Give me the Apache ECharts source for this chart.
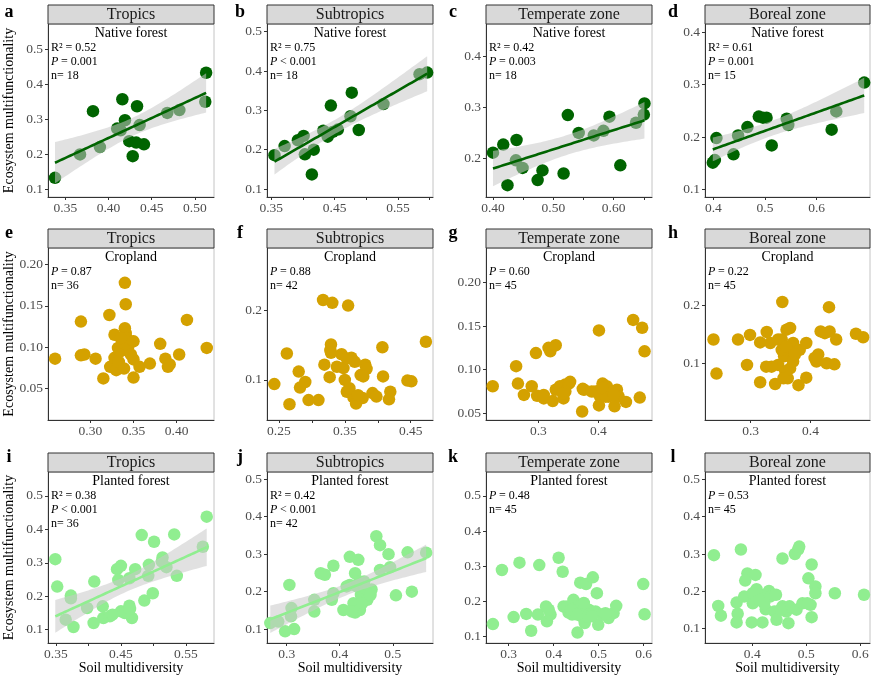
<!DOCTYPE html>
<html>
<head>
<meta charset="utf-8">
<script src="https://cdn.jsdelivr.net/npm/echarts@6.0.0/dist/echarts.min.js"></script>
<style>
html, body { margin: 0; padding: 0; background: #fff; }
#main { width: 872px; height: 678px; }
</style>
</head>
<body>
<div id="main"></div>
<script>
// 气候带与土地利用
var zones = ['Tropics', 'Subtropics', 'Temperate zone', 'Boreal zone'];
var landUses = ['Native forest', 'Cropland', 'Planted forest'];
var letters = ['a', 'b', 'c', 'd', 'e', 'f', 'g', 'h', 'i', 'j', 'k', 'l'];

// [Soil multidiversity, Ecosystem multifunctionality]
var ptsA = [[0.338,0.132],[0.367,0.199],[0.390,0.220],[0.382,0.323],[0.410,0.273],[0.414,0.268],[0.416,0.357],[0.419,0.297],[0.424,0.237],[0.428,0.194],[0.432,0.233],[0.433,0.337],[0.436,0.283],[0.441,0.228],[0.468,0.318],[0.482,0.326],[0.513,0.433],[0.512,0.350]];
var ptsB = [[0.355,0.186],[0.371,0.209],[0.392,0.224],[0.401,0.235],[0.403,0.188],[0.417,0.200],[0.414,0.137],[0.432,0.248],[0.439,0.233],[0.444,0.312],[0.455,0.251],[0.475,0.285],[0.477,0.345],[0.488,0.250],[0.527,0.316],[0.584,0.392],[0.596,0.396],[0.447,0.245]];
var ptsC = [[0.400,0.211],[0.417,0.227],[0.424,0.147],[0.439,0.236],[0.438,0.196],[0.449,0.181],[0.482,0.176],[0.474,0.157],[0.517,0.170],[0.524,0.285],[0.542,0.250],[0.567,0.245],[0.583,0.254],[0.593,0.282],[0.611,0.186],[0.637,0.270],[0.651,0.308],[0.650,0.286]];
var ptsD = [[0.399,0.151],[0.403,0.156],[0.406,0.198],[0.439,0.167],[0.448,0.203],[0.466,0.219],[0.488,0.239],[0.496,0.237],[0.503,0.237],[0.513,0.184],[0.542,0.235],[0.545,0.223],[0.629,0.214],[0.638,0.249],[0.692,0.304]];
var ptsE = [[0.259,0.086],[0.289,0.131],[0.289,0.090],[0.293,0.091],[0.306,0.086],[0.315,0.062],[0.322,0.139],[0.328,0.115],[0.323,0.076],[0.328,0.087],[0.330,0.072],[0.333,0.082],[0.332,0.099],[0.335,0.095],[0.340,0.178],[0.341,0.152],[0.340,0.123],[0.341,0.117],[0.338,0.105],[0.339,0.074],[0.342,0.111],[0.344,0.101],[0.350,0.107],[0.350,0.085],[0.350,0.063],[0.357,0.076],[0.369,0.080],[0.381,0.104],[0.387,0.086],[0.390,0.076],[0.392,0.079],[0.403,0.091],[0.412,0.133],[0.435,0.099],[0.347,0.091],[0.335,0.111]];
var ptsF = [[0.243,0.094],[0.262,0.138],[0.266,0.065],[0.280,0.112],[0.282,0.089],[0.290,0.097],[0.295,0.071],[0.310,0.071],[0.317,0.215],[0.331,0.211],[0.319,0.122],[0.327,0.104],[0.329,0.151],[0.328,0.143],[0.329,0.139],[0.338,0.119],[0.345,0.137],[0.355,0.207],[0.350,0.100],[0.353,0.083],[0.360,0.132],[0.363,0.075],[0.367,0.066],[0.377,0.074],[0.374,0.107],[0.381,0.122],[0.383,0.116],[0.378,0.105],[0.392,0.081],[0.398,0.076],[0.407,0.147],[0.408,0.105],[0.419,0.083],[0.417,0.072],[0.445,0.099],[0.451,0.098],[0.473,0.155],[0.357,0.088],[0.370,0.078],[0.348,0.117],[0.365,0.126],[0.353,0.131]];
var ptsG = [[0.224,0.081],[0.263,0.104],[0.266,0.084],[0.276,0.071],[0.289,0.081],[0.296,0.119],[0.298,0.070],[0.309,0.067],[0.317,0.125],[0.320,0.121],[0.329,0.128],[0.324,0.064],[0.329,0.077],[0.336,0.081],[0.342,0.067],[0.345,0.083],[0.351,0.084],[0.353,0.086],[0.374,0.078],[0.373,0.052],[0.376,0.077],[0.401,0.145],[0.395,0.075],[0.401,0.059],[0.403,0.069],[0.407,0.084],[0.411,0.075],[0.414,0.081],[0.417,0.069],[0.423,0.075],[0.427,0.058],[0.431,0.077],[0.434,0.069],[0.446,0.063],[0.458,0.157],[0.473,0.148],[0.477,0.121],[0.469,0.068],[0.345,0.075],[0.341,0.073],[0.389,0.075],[0.412,0.069],[0.426,0.071],[0.406,0.079],[0.309,0.071]];
var ptsH = [[0.238,0.141],[0.243,0.082],[0.279,0.141],[0.299,0.149],[0.294,0.097],[0.316,0.136],[0.316,0.067],[0.327,0.154],[0.333,0.135],[0.326,0.094],[0.341,0.064],[0.346,0.097],[0.353,0.206],[0.352,0.141],[0.356,0.112],[0.358,0.086],[0.362,0.074],[0.360,0.158],[0.366,0.161],[0.363,0.123],[0.366,0.091],[0.371,0.135],[0.382,0.123],[0.380,0.062],[0.393,0.135],[0.393,0.075],[0.413,0.115],[0.410,0.103],[0.417,0.155],[0.431,0.197],[0.432,0.155],[0.427,0.100],[0.440,0.098],[0.443,0.141],[0.476,0.151],[0.488,0.145],[0.371,0.103],[0.346,0.141],[0.352,0.123],[0.359,0.129],[0.335,0.094],[0.374,0.115],[0.424,0.152],[0.407,0.109],[0.355,0.074]];
var ptsI = [[0.349,0.311],[0.352,0.229],[0.365,0.130],[0.373,0.202],[0.373,0.194],[0.377,0.108],[0.398,0.165],[0.409,0.244],[0.408,0.120],[0.422,0.170],[0.423,0.135],[0.433,0.140],[0.444,0.281],[0.450,0.291],[0.446,0.249],[0.450,0.155],[0.463,0.254],[0.463,0.172],[0.467,0.135],[0.472,0.281],[0.482,0.383],[0.486,0.187],[0.492,0.261],[0.493,0.294],[0.499,0.209],[0.501,0.363],[0.514,0.316],[0.520,0.287],[0.532,0.385],[0.536,0.261],[0.576,0.348],[0.582,0.438],[0.437,0.145],[0.456,0.150],[0.464,0.162],[0.513,0.304]];
var ptsJ = [[0.269,0.116],[0.284,0.120],[0.297,0.094],[0.314,0.100],[0.305,0.218],[0.309,0.156],[0.308,0.134],[0.352,0.178],[0.352,0.147],[0.364,0.249],[0.372,0.245],[0.388,0.269],[0.385,0.178],[0.388,0.196],[0.407,0.151],[0.419,0.293],[0.435,0.285],[0.419,0.218],[0.426,0.169],[0.429,0.249],[0.429,0.144],[0.432,0.214],[0.437,0.227],[0.440,0.191],[0.438,0.151],[0.448,0.209],[0.452,0.178],[0.460,0.206],[0.469,0.348],[0.476,0.324],[0.492,0.300],[0.476,0.258],[0.495,0.265],[0.506,0.190],[0.528,0.305],[0.536,0.200],[0.563,0.304],[0.413,0.214],[0.442,0.169],[0.423,0.147],[0.458,0.191],[0.446,0.227]];
var ptsK = [[0.265,0.135],[0.285,0.289],[0.324,0.310],[0.311,0.155],[0.339,0.164],[0.350,0.116],[0.368,0.303],[0.365,0.162],[0.383,0.185],[0.385,0.143],[0.393,0.162],[0.411,0.324],[0.420,0.284],[0.422,0.185],[0.433,0.168],[0.444,0.204],[0.441,0.162],[0.448,0.176],[0.453,0.111],[0.459,0.253],[0.472,0.249],[0.462,0.157],[0.467,0.171],[0.469,0.138],[0.478,0.176],[0.487,0.268],[0.496,0.223],[0.493,0.171],[0.499,0.133],[0.507,0.162],[0.522,0.152],[0.533,0.166],[0.539,0.187],[0.599,0.249],[0.602,0.163],[0.479,0.162],[0.456,0.185],[0.430,0.185],[0.474,0.157],[0.485,0.157],[0.467,0.195],[0.389,0.176],[0.439,0.176],[0.515,0.166],[0.452,0.162]];
var ptsL = [[0.329,0.297],[0.337,0.161],[0.342,0.135],[0.379,0.312],[0.371,0.170],[0.373,0.140],[0.371,0.117],[0.385,0.186],[0.391,0.248],[0.387,0.229],[0.406,0.244],[0.399,0.117],[0.401,0.168],[0.408,0.206],[0.416,0.191],[0.419,0.117],[0.425,0.152],[0.431,0.201],[0.433,0.186],[0.444,0.191],[0.441,0.146],[0.445,0.124],[0.456,0.288],[0.456,0.160],[0.463,0.146],[0.467,0.115],[0.469,0.160],[0.479,0.300],[0.485,0.312],[0.487,0.320],[0.482,0.151],[0.493,0.168],[0.504,0.235],[0.510,0.272],[0.508,0.164],[0.510,0.131],[0.517,0.213],[0.517,0.195],[0.553,0.195],[0.607,0.191],[0.401,0.195],[0.422,0.168],[0.453,0.151],[0.502,0.168],[0.413,0.177]];

// 统计信息
var r2Vals = ['0.52', '0.75', '0.42', '0.61', null, null, null, null, '0.38', '0.42', null, null];
var pVals = ['= 0.001', '< 0.001', '= 0.003', '= 0.001', '= 0.87', '= 0.88', '= 0.60', '= 0.22', '< 0.001', '< 0.001', '= 0.48', '= 0.53'];
var nVals = [18, 18, 18, 15, 36, 42, 45, 45, 36, 42, 45, 45];
var fitted = [true, true, true, true, false, false, false, false, true, true, false, false];

// 刻度
var xTicks = [
    [0.35, 0.40, 0.45, 0.50],
    [0.35, 0.40, 0.45, 0.50, 0.55, 0.60],
    [0.40, 0.45, 0.50, 0.55, 0.60, 0.65],
    [0.4, 0.5, 0.6],
    [0.30, 0.35, 0.40],
    [0.25, 0.30, 0.35, 0.40, 0.45],
    [0.3, 0.4],
    [0.3, 0.4],
    [0.35, 0.40, 0.45, 0.50, 0.55],
    [0.3, 0.4, 0.5],
    [0.3, 0.4, 0.5, 0.6],
    [0.4, 0.5, 0.6]
];
var xLabels = [
    ['0.35', '0.40', '0.45', '0.50'],
    ['0.35', '0.45', '0.55'],
    ['0.40', '0.50', '0.60'],
    ['0.4', '0.5', '0.6'],
    ['0.30', '0.35', '0.40'],
    ['0.25', '0.35', '0.45'],
    ['0.3', '0.4'],
    ['0.3', '0.4'],
    ['0.35', '0.45', '0.55'],
    ['0.3', '0.4', '0.5'],
    ['0.3', '0.4', '0.5', '0.6'],
    ['0.4', '0.5', '0.6']
];
var yLabels = [
    ['0.1', '0.2', '0.3', '0.4', '0.5'],
    ['0.1', '0.2', '0.3', '0.4', '0.5'],
    ['0.2', '0.3', '0.4'],
    ['0.1', '0.2', '0.3', '0.4'],
    ['0.05', '0.10', '0.15', '0.20'],
    ['0.1', '0.2'],
    ['0.05', '0.10', '0.15', '0.20'],
    ['0.0', '0.1', '0.2'],
    ['0.1', '0.2', '0.3', '0.4', '0.5'],
    ['0.1', '0.2', '0.3', '0.4', '0.5'],
    ['0.1', '0.2', '0.3', '0.4', '0.5'],
    ['0.1', '0.2', '0.3', '0.4', '0.5']
];

var panels = [ptsA, ptsB, ptsC, ptsD, ptsE, ptsF, ptsG, ptsH, ptsI, ptsJ, ptsK, ptsL];

// 坐标轴范围 [xmin, xmax, ymin, ymax]
var extents = [
    [0.3299, 0.5221, 0.0770, 0.5727],
    [0.3432, 0.6052, 0.0796, 0.5195],
    [0.3884, 0.6635, 0.1237, 0.4645],
    [0.3839, 0.7032, 0.0854, 0.4160],
    [0.2508, 0.4434, 0.0115, 0.2203],
    [0.2319, 0.4838, 0.0423, 0.2899],
    [0.2128, 0.4894, 0.0423, 0.2394],
    [0.2238, 0.4995, 0.0017, 0.2994],
    [0.3378, 0.5932, 0.0603, 0.5715],
    [0.2628, 0.5759, 0.0628, 0.5195],
    [0.2496, 0.6185, 0.0811, 0.5681],
    [0.3125, 0.6181, 0.0618, 0.5196]
];

var FONT = 'Liberation Serif';
var rowColors = ['#006400', '#d4a100', '#90ee90'];
var colLeft = [48, 267, 486, 705];
var colW = [166, 166, 166, 165];
var rowTop = [24, 248, 472];
var rowH = [173, 172, 171];
var letterX = [9, 240, 453, 673];
var letterY = [12, 233, 457];

// t 分位数近似
function tQuant(df) {
    var z = 1.959964;
    return z + (z * z * z + z) / (4 * df) + (5 * Math.pow(z, 5) + 16 * z * z * z + 3 * z) / (96 * df * df);
}

// 线性回归及 95% 置信带
function fitLm(pts) {
    var n = pts.length, mx = 0, my = 0;
    pts.forEach(function (p) { mx += p[0]; my += p[1]; });
    mx /= n; my /= n;
    var sxx = 0, sxy = 0;
    pts.forEach(function (p) { sxx += (p[0] - mx) * (p[0] - mx); sxy += (p[0] - mx) * (p[1] - my); });
    var b = sxy / sxx, a = my - b * mx;
    var sse = 0;
    pts.forEach(function (p) { var r = p[1] - a - b * p[0]; sse += r * r; });
    var s = Math.sqrt(sse / (n - 2));
    var t = tQuant(n - 2);
    var xs = pts.map(function (p) { return p[0]; });
    var x0 = Math.min.apply(null, xs), x1 = Math.max.apply(null, xs);
    var line = [], band = [];
    for (var i = 0; i <= 60; i++) {
        var x = x0 + (x1 - x0) * i / 60;
        var y = a + b * x;
        var se = s * Math.sqrt(1 / n + (x - mx) * (x - mx) / sxx);
        line.push([x, y]);
        band.push([x, y - t * se, y + t * se]);
    }
    return { line: line, band: band };
}

function labelFmt(labs) {
    return function (v) {
        for (var k = 0; k < labs.length; k++) {
            if (Math.abs(+labs[k] - v) < 1e-9) return labs[k];
        }
        return '';
    };
}

var grids = [], xAxes = [], yAxes = [], series = [], graphics = [];

panels.forEach(function (pts, i) {
    var r = Math.floor(i / 4), c = i % 4;
    var L = colLeft[c], T = rowTop[r], W = colW[c], H = rowH[r];
    var e = extents[i];
    var color = rowColors[r];

    grids.push({
        left: L, top: T, width: W, height: H,
        show: true, borderColor: '#c4c4c4', borderWidth: 1, backgroundColor: '#fff',
        containLabel: false, outerBoundsMode: 'none'
    });
    xAxes.push({
        type: 'value', gridIndex: i, min: e[0], max: e[1],
        splitLine: { show: false },
        axisLine: { show: true, onZero: false, lineStyle: { color: '#333', width: 1 } },
        axisTick: { show: true, length: 3, customValues: xTicks[i], lineStyle: { color: '#333' } },
        axisLabel: {
            customValues: xLabels[i].map(Number), formatter: labelFmt(xLabels[i]),
            color: '#4d4d4d', fontSize: 13.5, fontFamily: FONT, margin: 4
        }
    });
    yAxes.push({
        type: 'value', gridIndex: i, min: e[2], max: e[3],
        splitLine: { show: false },
        axisLine: { show: true, onZero: false, lineStyle: { color: '#333', width: 1 } },
        axisTick: { show: true, length: 3, customValues: yLabels[i].map(Number), lineStyle: { color: '#333' } },
        axisLabel: {
            customValues: yLabels[i].map(Number), formatter: labelFmt(yLabels[i]),
            color: '#4d4d4d', fontSize: 13.5, fontFamily: FONT, margin: 5
        }
    });

    series.push({
        type: 'scatter', xAxisIndex: i, yAxisIndex: i, data: pts,
        symbol: 'circle', symbolSize: 12.5, z: 2, silent: true,
        itemStyle: { color: color, opacity: 1 }
    });

    if (fitted[i]) {
        var fit = fitLm(pts);
        var band = fit.band;
        series.push({
            type: 'custom', xAxisIndex: i, yAxisIndex: i, data: band, z: 3, silent: true, clip: true,
            encode: { x: 0, y: [1, 2] },
            renderItem: function (params, api) {
                if (params.dataIndex !== 0) return null;
                var up = [], lo = [];
                band.forEach(function (b) {
                    up.push(api.coord([b[0], b[2]]));
                    lo.push(api.coord([b[0], b[1]]));
                });
                return {
                    type: 'polygon',
                    shape: { points: up.concat(lo.reverse()) },
                    style: { fill: 'rgba(200,200,200,0.55)' }
                };
            }
        });
        series.push({
            type: 'line', xAxisIndex: i, yAxisIndex: i, data: fit.line, z: 4, silent: true,
            showSymbol: false, symbol: 'none', smooth: false,
            lineStyle: { color: color, width: 2.6 }
        });
    }

    // 分面标签
    graphics.push({
        type: 'rect', shape: { x: L, y: T - 19, width: W, height: 19 },
        style: { fill: '#d9d9d9', stroke: '#333', lineWidth: 1 }, z: 10
    });
    graphics.push({
        type: 'text', x: L + W / 2, y: T - 9.5, z: 11,
        style: { text: zones[c], font: '16px ' + FONT, fill: '#1a1a1a', textAlign: 'center', textVerticalAlign: 'middle' }
    });
    graphics.push({
        type: 'text', x: letterX[c], y: letterY[r], z: 11,
        style: { text: letters[i], font: 'bold 18px ' + FONT, fill: '#000', textAlign: 'center', textVerticalAlign: 'middle' }
    });
    graphics.push({
        type: 'text', x: L + W / 2, y: T + 9.5, z: 11,
        style: { text: landUses[r], font: '14px ' + FONT, fill: '#000', textAlign: 'center', textVerticalAlign: 'middle' }
    });

    // 统计注释
    var ty = T + 24;
    var tx = L + 3;
    if (r2Vals[i]) {
        graphics.push({
            type: 'text', x: tx, y: ty, z: 11,
            style: { text: 'R\u00b2 = ' + r2Vals[i], font: '12px ' + FONT, fill: '#000', textAlign: 'left', textVerticalAlign: 'middle' }
        });
        ty += 14;
    }
    graphics.push({
        type: 'text', x: tx, y: ty, z: 11,
        style: { text: 'P', font: 'italic 12px ' + FONT, fill: '#000', textAlign: 'left', textVerticalAlign: 'middle' }
    });
    graphics.push({
        type: 'text', x: tx + 10, y: ty, z: 11,
        style: { text: pVals[i], font: '12px ' + FONT, fill: '#000', textAlign: 'left', textVerticalAlign: 'middle' }
    });
    ty += 14;
    graphics.push({
        type: 'text', x: tx, y: ty, z: 11,
        style: { text: 'n= ' + nVals[i], font: '12px ' + FONT, fill: '#000', textAlign: 'left', textVerticalAlign: 'middle' }
    });
});

// 坐标轴标题
rowTop.forEach(function (T, r) {
    graphics.push({
        type: 'text', x: 9, y: T + rowH[r] / 2, rotation: Math.PI / 2, z: 11,
        style: { text: 'Ecosystem multifunctionality', font: '14px ' + FONT, fill: '#000', textAlign: 'center', textVerticalAlign: 'middle' }
    });
});
colLeft.forEach(function (L, c) {
    graphics.push({
        type: 'text', x: L + colW[c] / 2, y: 668, z: 11,
        style: { text: 'Soil multidiversity', font: '14px ' + FONT, fill: '#000', textAlign: 'center', textVerticalAlign: 'middle' }
    });
});

var myChart = echarts.init(document.getElementById('main'), null, { renderer: 'canvas' });
myChart.setOption({
    backgroundColor: '#fff',
    animation: false,
    grid: grids,
    xAxis: xAxes,
    yAxis: yAxes,
    series: series,
    graphic: { elements: graphics }
});
</script>
</body>
</html>
